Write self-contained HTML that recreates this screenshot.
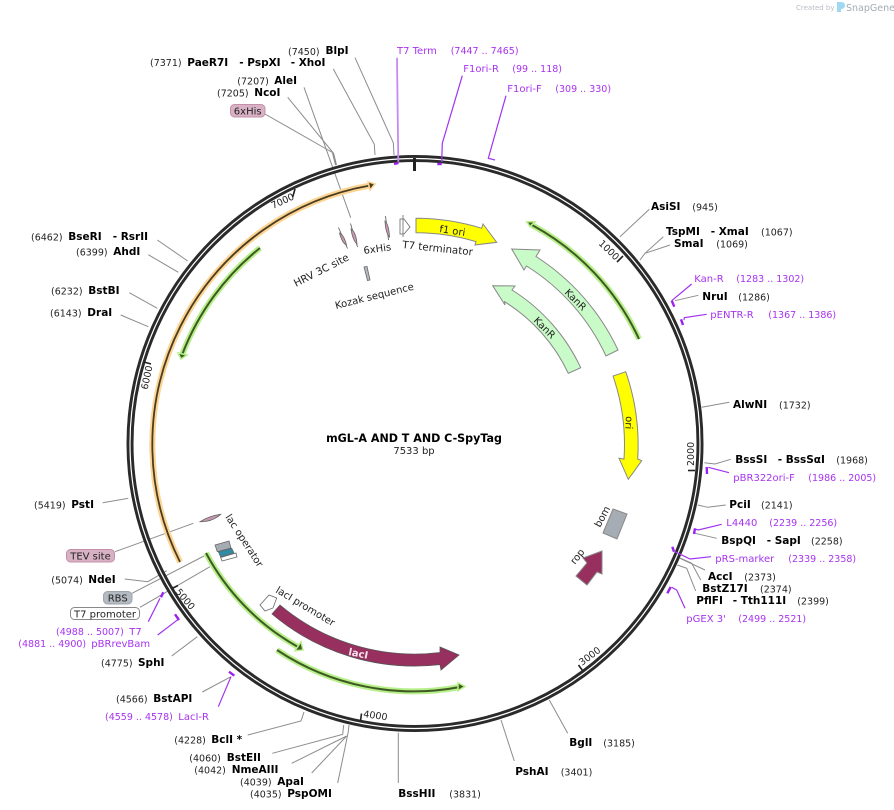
<!DOCTYPE html>
<html><head><meta charset="utf-8"><style>
html,body{margin:0;padding:0;background:#fff}
svg{display:block}
text{font-family:"DejaVu Sans","Liberation Sans",sans-serif;font-size:9.5px;fill:#222}
.b{font-weight:bold;font-size:10.5px;fill:#000}
.p{fill:#a733f0;font-size:10px}
.q{fill:#a733f0;font-size:9.5px}
.l{font-size:10px;fill:#222}
.g{fill:none;stroke:#8c8c8c;stroke-width:1}
.v{fill:none;stroke:#a033f0;stroke-width:1.2}
.m{fill:none;stroke:#9a22f0;stroke-width:2.4}
.f{stroke:#888;stroke-width:1}
</style></head><body>
<svg width="894" height="810" viewBox="0 0 894 810" xmlns="http://www.w3.org/2000/svg">
<text x="796" y="10" style="font-size:7px;fill:#b9bec4">Created by</text>
<path d="M837 2 h4 q4 0 4 3.5 q0 3.5 -4 3.5 v3 h-4z" fill="#9fd8f2"/>
<text x="846" y="11" style="font-size:9.5px;fill:#a3abb4">SnapGene</text>

<!-- leader lines -->
<g class="g">
<path d="M355 57.7L393.3 142.7L394 155"/><path d="M333.3 69L374.3 144.3L375 155"/>
<path d="M304 87.3L350.7 217.7"/><path d="M287.7 97.3L333.3 153"/><path d="M265 114L333.3 153"/>
<path d="M333 153L336 165" stroke-width="2"/>
<path d="M649.3 209.3L620 236.7"/><path d="M663.3 236.7L645 253.3L640 260"/><path d="M670 245L645 253.3"/>
<path d="M698.3 295.3L675 300.7"/><path d="M729.3 402.3L701.7 407.3"/>
<path d="M730.7 459.3L715 464L704.3 462.7"/><path d="M725.7 505L707.7 507.3L697.7 505"/>
<path d="M716.7 538.3L695 533.3"/><path d="M705 570L680 558.3"/><path d="M700.7 580L691.7 563.3L680 558"/>
<path d="M695.7 591L686.7 568.3L677.3 565"/>
<path d="M549.3 700L567.7 733.3"/><path d="M501 720L514.3 761"/><path d="M398.3 783V732.7"/>
<path d="M337.7 783L348.3 731.7L349 725"/><path d="M311.7 773L346.7 736"/><path d="M291.7 763.3L346.7 736"/>
<path d="M272.3 753.3L342.7 734.3L343.7 725"/><path d="M247.7 735L301 721L304 712"/>
<path d="M202.3 692L231 676.7"/><path d="M171.7 656L197.3 636.7"/>
<path d="M140 607.3L210 566.7"/><path d="M132 593.3L204 556"/>
<path d="M124.7 579L147.7 581.7L166.7 570.7"/><path d="M115 551.7L193.3 523.3"/>
<path d="M102.7 502.7L128.3 498.3"/><path d="M120.7 315L148.3 326.7"/><path d="M129.3 292.7L157.3 308.3"/>
<path d="M148.3 254.7L178.3 272.3"/><path d="M157.3 240L187.7 261"/>
</g>

<!-- main ring -->
<circle cx="415" cy="443.5" r="285" fill="none" stroke="#2a2a2a" stroke-width="7"/>
<circle cx="415" cy="443.5" r="285" fill="none" stroke="#fff" stroke-width="1.2"/>

<!-- ticks -->
<g stroke="#222" stroke-width="1.6" fill="none">
<path d="M414.5 158V171" stroke-width="3"/>
<path d="M623 256L617 262"/><path d="M695 470.5H688"/><path d="M582.5 670.5L578.5 665"/>
<path d="M360.5 721L361.5 713.5"/><path d="M172 588.5L178 585.5"/><path d="M144 362L151 364"/><path d="M292.7 197L295 189"/>
</g>
<text transform="translate(598 244) rotate(44)">1000</text>
<text transform="translate(694 466) rotate(-90)">2000</text>
<text transform="translate(582 666) rotate(-37)">3000</text>
<text transform="translate(363 717) rotate(8)">4000</text>
<text transform="translate(175 592) rotate(50)">5000</text>
<text transform="translate(147.5 390) rotate(-78)">6000</text>
<text transform="translate(273 209) rotate(-25)">7000</text>

<!-- purple primers -->
<path d="M397 57.7L398.3 161.7" fill="none" stroke="#c58af5" stroke-width="1.8"/>
<path d="M394 164L398.5 163" class="m"/>
<g class="v">
<path d="M462.3 75.7L442.3 143.3L441.7 162"/><path d="M506 95.7L488.3 158.3L495 160"/>
<path d="M691.7 284L671.7 300.7"/><path d="M706.7 314.3L684.3 317.7L684 320"/>
<path d="M729 472.7L708.3 467.3"/><path d="M721.7 524.3L698.3 530L695 529"/>
<path d="M711 556.7L690 559L675 551.7"/><path d="M685 608.3L676.7 590L671.7 587.3"/>
<path d="M218.3 706.7L231 676.7"/><path d="M157.7 635L178.3 619.3"/><path d="M148.3 621.7L160 598.3"/>
</g>
<g class="m">
<path d="M437.3 164H441.7"/><path d="M671.7 300.7L674.3 306.7"/><path d="M681 319.3L683 325"/>
<path d="M706.7 467L707 474"/><path d="M695 528.3L694 534"/><path d="M672.3 546.7L674 551.7"/>
<path d="M670.7 587L667.3 593.3"/><path d="M229 671.7L234.3 675.7"/><path d="M175 614.3L179 620"/><path d="M161 597.3L163.3 592.3"/>
</g>

<!-- thin features -->
<g fill="none" stroke-linecap="butt">
<path d="M180 562A263 263 0 0 1 370 185.5" stroke="#fcd493" stroke-width="6"/>
<path d="M260 248A250 250 0 0 0 182 355" stroke="#b7ef8a" stroke-width="6"/>
<path d="M639 339A248 248 0 0 0 532 225" stroke="#b7ef8a" stroke-width="6"/>
<path d="M206 553A234 234 0 0 0 298 647" stroke="#b7ef8a" stroke-width="6"/>
<path d="M277 650A247 247 0 0 0 460 687" stroke="#b7ef8a" stroke-width="6"/>
<path d="M180 562A263 263 0 0 1 370 185.5" stroke="#4a3c20" stroke-width="1.8"/>
<path d="M260 248A250 250 0 0 0 182 355" stroke="#3e5a22" stroke-width="2"/>
<path d="M639 339A248 248 0 0 0 532 225" stroke="#3e5a22" stroke-width="2"/>
<path d="M206 553A234 234 0 0 0 298 647" stroke="#3e5a22" stroke-width="2"/>
<path d="M277 650A247 247 0 0 0 460 687" stroke="#3e5a22" stroke-width="2"/>
</g>
<path d="M375 184L368 181.7L370 190Z" fill="#4a3c20" stroke="#fcd493" stroke-width="1.5"/>
<path d="M181 359L178 353L187 355Z" fill="#3e5a22" stroke="#b7ef8a" stroke-width="1.5"/>
<path d="M526.7 221.7L535 221.7L530 226.7Z" fill="#3e5a22" stroke="#b7ef8a" stroke-width="1.5"/>
<path d="M303 650L301 641.7L295 650.7Z" fill="#3e5a22" stroke="#b7ef8a" stroke-width="1.5"/>
<path d="M465 686.5L458 682.7L458 690.7Z" fill="#3e5a22" stroke="#b7ef8a" stroke-width="1.5"/>

<!-- block features -->
<path class="f" fill="#ffff00" d="M416 218.3A226 226 0 0 1 481.7 228.3L483 224L496.7 242.3L475 245L476 241.6A212 212 0 0 0 416 232.7Z"/>
<path class="f" fill="#c9fbc9" d="M618 350A224 224 0 0 0 536 256.5L540 250L511.7 249L524 270L526.5 266A211 211 0 0 1 606 356Z"/>
<path class="f" fill="#c9fbc9" d="M580.7 367.7A183 183 0 0 0 512 290L515 286L492.7 285.7L505 305L504.6 301.7A169 169 0 0 1 568.3 373.3Z"/>
<path class="f" fill="#ffff00" d="M625.7 371.7A223 223 0 0 1 637.7 459L641.7 460.7L628.3 479.3L619 458.3L624 459A210 210 0 0 0 613 376Z"/>
<path class="f" fill="#a6acb4" d="M613 509L627 514L617 539L603 533Z"/>
<path class="f" fill="#98305f" d="M602 551L583 558L587 563L576 576L587 585L597 572L602 574Z"/>
<path fill="#98305f" stroke="#555" stroke-width="0.8" d="M272 614A221 221 0 0 0 440 664.6L441 670L459 655L440 647L440 652.5A209 209 0 0 1 280 605Z"/>

<!-- small features -->
<g stroke="#666" stroke-width="0.8" fill="#c997b0">
<path d="M338.5 227.5L347.5 248.5" stroke="#555"/><path d="M350.5 223.5L357.5 247" stroke="#555"/>
<path d="M385.5 216L388.5 240" stroke="#555"/>
<path d="M339.5 233Q344 235 346.5 245Q342 243 339.5 233Z"/><path d="M351 229Q356 232 357 244Q352.5 240 351 229Z"/>
<path d="M385 221Q389 225 389.5 237Q385.5 233 385 221Z"/>
<path d="M364 267L367 266.5L370 280L367.5 280.5Z" fill="#b4bac2"/>
<path d="M200 521.7Q209 516 220.7 514.3Q212 522 200 521.7Z"/>
<path d="M400 219L404 219L410 227L404 234L400 234Z" fill="#fff"/>
<path d="M403 215V237" fill="none"/>
<path d="M260 605L269 595L276.7 598L273 608L265 611Z" fill="#fff"/>
<path d="M215 545L229 541L231 548L217.3 551.7Z" fill="#a6acb4"/>
<path d="M218.3 551.7L231.7 548.3L234 553L220.7 557Z" fill="#2f8ca3"/>
<path d="M220.7 557.5L236 553L237 557L222 561Z" fill="#fff"/>
</g>

<!-- inner labels -->
<text class="l" transform="translate(296 287) rotate(-27)" style="font-size:10.3px">HRV 3C site</text>
<text class="l" transform="translate(364 254) rotate(-8)">6xHis</text>
<text class="l" transform="translate(402 248) rotate(6)" style="font-size:10.3px">T7 terminator</text>
<text class="l" transform="translate(336 309) rotate(-14)">Kozak sequence</text>
<text class="l" transform="translate(225 517) rotate(57)">lac operator</text>
<text class="l" transform="translate(275 592) rotate(31)">lacI promoter</text>
<text class="l" transform="translate(348 655) rotate(11)" style="fill:#f6e4ec;font-weight:bold">lacI</text>
<text class="l" transform="translate(600 528) rotate(-62)">bom</text>
<text class="l" transform="translate(575 565) rotate(-52)">rop</text>
<text class="l" transform="translate(626 416) rotate(93)">ori</text>
<text class="l" transform="translate(439 232) rotate(9)">f1 ori</text>
<text class="l" transform="translate(564 293) rotate(45)">KanR</text>
<text class="l" transform="translate(533 321) rotate(45)">KanR</text>

<text x="414" y="442" text-anchor="middle" class="b" style="font-size:11.1px">mGL-A AND T AND C-SpyTag</text>
<text x="414" y="454" text-anchor="middle" class="l">7533 bp</text>

<!-- pills -->
<rect x="230.5" y="104.5" width="34.5" height="12.5" rx="4" fill="#d9b1c4" stroke="#c48fa9"/>
<text x="247.7" y="114.5" text-anchor="middle" class="l">6xHis</text>
<rect x="66.5" y="549.5" width="48" height="12.5" rx="4" fill="#d9b1c4" stroke="#c48fa9"/>
<text x="90.5" y="559.5" text-anchor="middle" class="l">TEV site</text>
<rect x="103.5" y="591.5" width="28.5" height="12.5" rx="4" fill="#b4bac2" stroke="#9ea4ac"/>
<text x="117.7" y="601.5" text-anchor="middle" class="l">RBS</text>
<rect x="70.5" y="607.5" width="69" height="12" rx="4" fill="#fff" stroke="#888"/>
<text x="105" y="617.3" text-anchor="middle" class="l">T7 promoter</text>

<!-- enzymes left/top -->
<text x="288" y="55">(7450)</text><text x="325.5" y="54" class="b">BlpI</text>
<text x="150" y="66">(7371)</text><text x="187.3" y="66" class="b">PaeR7I</text><text x="239.3" y="66" class="b">- PspXI</text><text x="290.7" y="66" class="b">- XhoI</text>
<text x="237.3" y="84.5">(7207)</text><text x="274.3" y="84" class="b">AleI</text>
<text x="217" y="96.5">(7205)</text><text x="254.3" y="96" class="b">NcoI</text>
<text x="31" y="240.5">(6462)</text><text x="68.3" y="240" class="b">BseRI</text><text x="112.7" y="240" class="b">- RsrII</text>
<text x="76" y="255.5">(6399)</text><text x="113.3" y="255" class="b">AhdI</text>
<text x="51" y="294.5">(6232)</text><text x="88.3" y="294" class="b">BstBI</text>
<text x="50" y="316.5">(6143)</text><text x="87.3" y="316" class="b">DraI</text>
<text x="34" y="508.5">(5419)</text><text x="71.3" y="508" class="b">PstI</text>
<text x="51.3" y="583.5">(5074)</text><text x="88.3" y="583" class="b">NdeI</text>
<text x="56" y="635" class="q">(4988 .. 5007)</text><text x="129.3" y="635" class="p">T7</text>
<text x="18.3" y="647" class="q">(4881 .. 4900)</text><text x="91.3" y="647" class="p">pBRrevBam</text>
<text x="101" y="666.5">(4775)</text><text x="138" y="666" class="b">SphI</text>
<text x="116" y="702.5">(4566)</text><text x="153.3" y="702" class="b">BstAPI</text>
<text x="105" y="720" class="q">(4559 .. 4578)</text><text x="178.3" y="720" class="p">LacI-R</text>
<text x="174.3" y="743.5">(4228)</text><text x="211.3" y="743" class="b">BclI *</text>
<text x="189.3" y="761.5">(4060)</text><text x="226.7" y="761" class="b">BstEII</text>
<text x="194.3" y="773.5">(4042)</text><text x="231.7" y="773" class="b">NmeAIII</text>
<text x="240" y="785.5">(4039)</text><text x="277.3" y="785" class="b">ApaI</text>
<text x="250" y="797.5">(4035)</text><text x="287.3" y="797" class="b">PspOMI</text>
<text x="398.3" y="797" class="b">BssHII</text><text x="449.3" y="797.5">(3831)</text>
<text x="515.3" y="775" class="b">PshAI</text><text x="560.7" y="775.5">(3401)</text>
<text x="569.3" y="746" class="b">BglI</text><text x="603.3" y="746.5">(3185)</text>

<!-- right -->
<text x="651" y="210" class="b">AsiSI</text><text x="692.3" y="210.5">(945)</text>
<text x="666" y="235" class="b">TspMI</text><text x="710.7" y="235" class="b">- XmaI</text><text x="761" y="235.5">(1067)</text>
<text x="674" y="247" class="b">SmaI</text><text x="716.3" y="247.5">(1069)</text>
<text x="694.3" y="282" class="p">Kan-R</text><text x="736.3" y="282" class="q">(1283 .. 1302)</text>
<text x="702.3" y="300" class="b">NruI</text><text x="738.3" y="300.5">(1286)</text>
<text x="710.3" y="318" class="p">pENTR-R</text><text x="768.3" y="318" class="q">(1367 .. 1386)</text>
<text x="733" y="408" class="b">AlwNI</text><text x="779" y="408.5">(1732)</text>
<text x="735.3" y="463" class="b">BssSI</text><text x="777.7" y="463" class="b">- BssSαI</text><text x="836.3" y="463.5">(1968)</text>
<text x="733.3" y="481" class="p">pBR322ori-F</text><text x="808.3" y="481" class="q">(1986 .. 2005)</text>
<text x="729.3" y="508" class="b">PciI</text><text x="761" y="508.5">(2141)</text>
<text x="726.3" y="526" class="p">L4440</text><text x="769.3" y="526" class="q">(2239 .. 2256)</text>
<text x="721.3" y="544" class="b">BspQI</text><text x="766.7" y="544" class="b">- SapI</text><text x="811" y="544.5">(2258)</text>
<text x="715.3" y="562" class="p">pRS-marker</text><text x="788.3" y="562" class="q">(2339 .. 2358)</text>
<text x="708" y="580" class="b">AccI</text><text x="744.3" y="580.5">(2373)</text>
<text x="702.3" y="592" class="b">BstZ17I</text><text x="760" y="592.5">(2374)</text>
<text x="696.3" y="604" class="b">PflFI</text><text x="732.7" y="604" class="b">- Tth111I</text><text x="797.3" y="604.5">(2399)</text>
<text x="686.3" y="622" class="p">pGEX 3'</text><text x="738.3" y="622" class="q">(2499 .. 2521)</text>

<text x="397" y="54" class="p">T7 Term</text><text x="450.7" y="54" class="q">(7447 .. 7465)</text>
<text x="463.3" y="72" class="p">F1ori-R</text><text x="512.3" y="72" class="q">(99 .. 118)</text>
<text x="507.3" y="92" class="p">F1ori-F</text><text x="555.3" y="92" class="q">(309 .. 330)</text>
</svg>
</body></html>
